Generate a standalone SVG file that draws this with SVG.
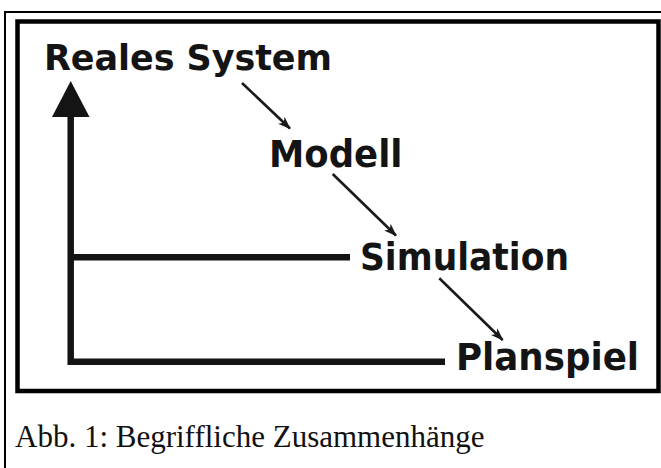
<svg xmlns="http://www.w3.org/2000/svg" width="661" height="468" viewBox="0 0 661 468">
  <defs>
    <style>
      .lbl { font-family: "DejaVu Sans", "Liberation Sans", Arial, sans-serif; font-weight: bold; fill: #141414; }
      .cap { font-family: "Liberation Serif", "Times New Roman", serif; fill: #111; }
      .axis { stroke: #141414; stroke-width: 6.5; fill: none; }
      .arr { stroke: #1a1a1a; stroke-width: 2.6; fill: none; marker-end: url(#head); }
    </style>
    <marker id="head" viewBox="0 0 13 10" refX="12" refY="5" markerWidth="13" markerHeight="10" markerUnits="userSpaceOnUse" orient="auto">
      <path d="M0,0.3 L13,5 L0,9.7 L3.5,5 Z" fill="#1a1a1a"/>
    </marker>
  </defs>
  <rect width="661" height="468" fill="#fff"/>
  <g id="outer-frame">
    <path d="M5,468 L5,12 L661,12" fill="none" stroke="#000" stroke-width="2"/>
  </g>
  <g id="inner-frame">
    <rect x="17.5" y="21.5" width="641" height="369.5" fill="none" stroke="#000" stroke-width="4.5"/>
  </g>
  <g id="axes">
    <path class="axis" d="M70.7,115 L70.7,361.7 L445,361.7"/>
    <path class="axis" d="M70.7,257.3 L350,257.3"/>
    <path d="M70.7,81 L89.5,117 L52,117 Z" fill="#141414"/>
  </g>
  <g id="connectors">
    <line class="arr" x1="242" y1="83" x2="290" y2="128.5"/>
    <line class="arr" x1="332.7" y1="174" x2="396" y2="235.5"/>
    <line class="arr" x1="439.3" y1="278.3" x2="502.7" y2="340"/>
  </g>
  <g id="node-reales-system">
    <text class="lbl" x="44" y="69.7" font-size="35" textLength="288" lengthAdjust="spacing">Reales System</text>
  </g>
  <g id="node-modell">
    <text class="lbl" x="269" y="166.7" font-size="37" textLength="133.5" lengthAdjust="spacingAndGlyphs">Modell</text>
  </g>
  <g id="node-simulation">
    <text class="lbl" x="360" y="270" font-size="37" textLength="209" lengthAdjust="spacingAndGlyphs">Simulation</text>
  </g>
  <g id="node-planspiel">
    <text class="lbl" x="456" y="370" font-size="37" textLength="183" lengthAdjust="spacingAndGlyphs">Planspiel</text>
  </g>
  <g id="caption">
    <text class="cap" x="15" y="447" font-size="31">Abb. 1: Begriffliche Zusammenhänge</text>
  </g>
</svg>
